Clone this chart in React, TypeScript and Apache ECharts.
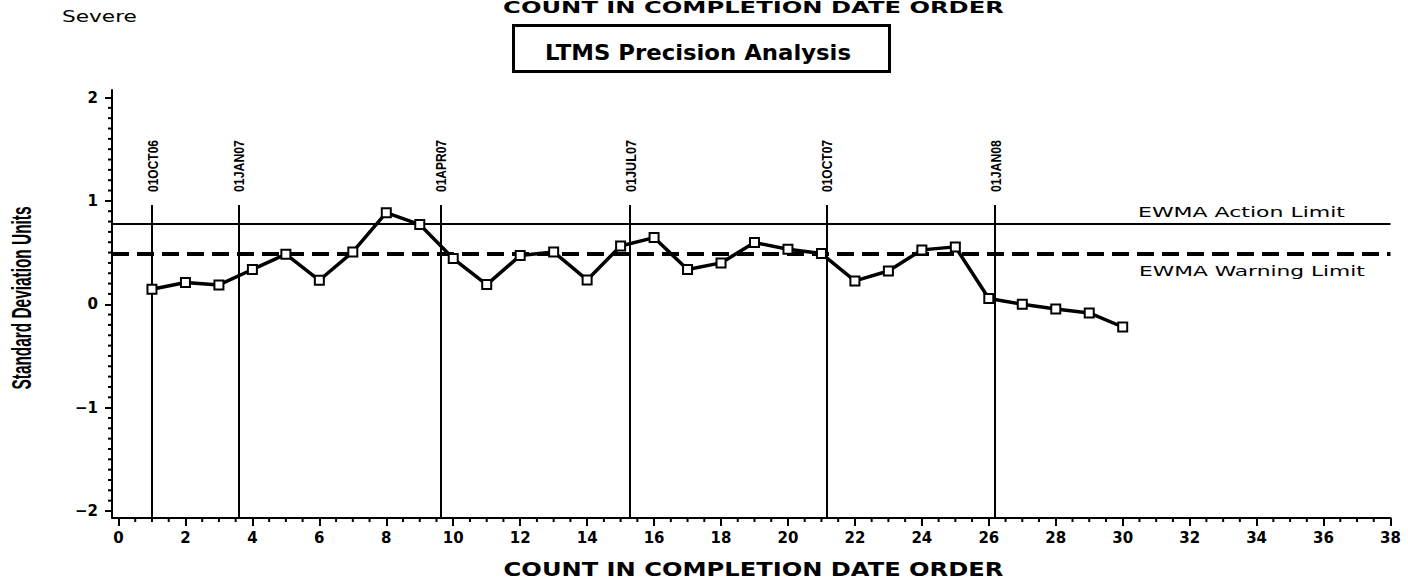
import React, { useEffect, useRef } from "react";
import * as echarts from "echarts";

// ---- data ----
const counts = [1, 2, 3, 4, 5, 6, 7, 8, 9, 10, 11, 12, 13, 14, 15, 16, 17, 18, 19, 20, 21, 22, 23, 24, 25, 26, 27, 28, 29, 30];
const sdUnits = [0.145, 0.21, 0.187, 0.336, 0.484, 0.232, 0.506, 0.886, 0.771, 0.442, 0.19, 0.471, 0.506, 0.235, 0.564, 0.645, 0.336, 0.4, 0.597, 0.532, 0.49, 0.226, 0.322, 0.526, 0.555, 0.055, 0.0, -0.045, -0.084, -0.22];
const actionLimit = 0.783;
const warningLimit = 0.493;
const dateLabels = ["01OCT06", "01JAN07", "01APR07", "01JUL07", "01OCT07", "01JAN08"];
const datePositions = [1.0, 3.58, 9.62, 15.27, 21.15, 26.18];
const xTickLabels = [0, 2, 4, 6, 8, 10, 12, 14, 16, 18, 20, 22, 24, 26, 28, 30, 32, 34, 36, 38];
const yTickLabels = [-2, -1, 0, 1, 2];
const titleText = "COUNT IN COMPLETION DATE ORDER";
const boxTitle = "LTMS Precision Analysis";
const severityText = "Severe";
const yTitle = "Standard Deviation Units";
const actionText = "EWMA Action Limit";
const warningText = "EWMA Warning Limit";

// axis ranges (axes are offset a little from the first ticks, like the original)
const X_MIN = -0.194;
const X_MAX = 38;
const Y_MIN = -2.0677;
const Y_MAX = 2.0726;
const LINE_TOP = 0.96;
const DATE_LABEL_Y = 1.086;

// minor tick positions (0.5 on x, 0.1 on y)
const xMinorTicks: number[] = [];
for (let i = 0; i <= 76; i++) if (i % 4 !== 0) xMinorTicks.push(i * 0.5);
const yMinorTicks: number[] = [];
for (let i = -20; i <= 20; i++) if (i % 10 !== 0) yMinorTicks.push(i / 10);

const SANS = "'DejaVu Sans', Verdana, sans-serif";
const ARIAL = "'Liberation Sans', Arial, sans-serif";

function measure(text: string, font: string): number {
  const c = document.createElement("canvas").getContext("2d");
  if (!c) return text.length * 8;
  c.font = font;
  return c.measureText(text).width || 1;
}

function fitText(
  text: string,
  x: number,
  y: number,
  size: number,
  weight: string,
  family: string,
  target: number,
  align: string,
  rotation = 0
) {
  const w = measure(text, `${weight} ${size}px ${family}`);
  return {
    type: "text",
    x,
    y,
    rotation,
    scaleX: target / w,
    scaleY: 1,
    silent: true,
    style: {
      text,
      fontSize: size,
      fontWeight: weight,
      fontFamily: family,
      fill: "#000",
      align,
      verticalAlign: "middle",
      textAlign: align,
      textVerticalAlign: "middle",
    },
  };
}

export default function App() {
  const ref = useRef<HTMLDivElement>(null);

  useEffect(() => {
    if (!ref.current) return;
    const chart = echarts.init(ref.current, null, { renderer: "svg" });

    const axisLine = { show: true, onZero: false, lineStyle: { color: "#000", width: 2 } };
    const labelFont = { color: "#000", fontSize: 15, fontWeight: "bold", fontFamily: SANS };
    const tickStyle = { color: "#000", width: 2 };

    const option: any = {
      animation: false,
      backgroundColor: "#fff",
      grid: { left: 112, right: 17.5, top: 90, bottom: 61, containLabel: false },
      xAxis: {
        type: "value",
        min: X_MIN,
        max: X_MAX,
        position: "bottom",
        axisLine,
        splitLine: { show: false },
        axisTick: { show: true, customValues: xTickLabels, length: 8, lineStyle: tickStyle },
        axisLabel: {
          show: true,
          customValues: xTickLabels,
          margin: 12,
          ...labelFont,
          formatter: (v: number) => String(v),
        },
      },
      yAxis: {
        type: "value",
        min: Y_MIN,
        max: Y_MAX,
        position: "left",
        axisLine,
        splitLine: { show: false },
        axisTick: { show: true, customValues: yTickLabels, length: 7, lineStyle: tickStyle },
        axisLabel: {
          show: true,
          customValues: yTickLabels,
          margin: 14,
          ...labelFont,
          formatter: (v: number) => String(v).replace("-", "\u2212"),
        },
      },
      series: [
        {
          name: "refs",
          type: "line",
          data: [],
          silent: true,
          markLine: {
            silent: true,
            symbol: "none",
            label: { show: false },
            data: [
              { yAxis: actionLimit, lineStyle: { color: "#000", width: 2, type: "solid" } },
              { yAxis: warningLimit, lineStyle: { color: "#000", width: 4, type: [17, 8] } },
              ...datePositions.map((d) => [
                { coord: [d, Y_MIN], lineStyle: { color: "#000", width: 2, type: "solid" } },
                { coord: [d, LINE_TOP] },
              ]),
            ],
          },
        },
        {
          name: "xMinorTicks",
          type: "custom",
          silent: true,
          clip: false,
          data: xMinorTicks.map((v) => [v, Y_MIN]),
          encode: { x: 0, y: 1 },
          renderItem: (_p: any, api: any) => {
            const pt = api.coord([api.value(0), api.value(1)]);
            return {
              type: "line",
              shape: { x1: pt[0], y1: pt[1], x2: pt[0], y2: pt[1] + 4 },
              style: { stroke: "#000", lineWidth: 2 },
            };
          },
        },
        {
          name: "yMinorTicks",
          type: "custom",
          silent: true,
          clip: false,
          data: yMinorTicks.map((v) => [X_MIN, v]),
          encode: { x: 0, y: 1 },
          renderItem: (_p: any, api: any) => {
            const pt = api.coord([api.value(0), api.value(1)]);
            return {
              type: "line",
              shape: { x1: pt[0], y1: pt[1], x2: pt[0] - 4, y2: pt[1] },
              style: { stroke: "#000", lineWidth: 2 },
            };
          },
        },
        {
          name: "EWMA",
          type: "line",
          data: counts.map((c, i) => [c, sdUnits[i]]),
          symbol: "rect",
          symbolSize: 9,
          showAllSymbol: true,
          lineStyle: { color: "#000", width: 3.5 },
          itemStyle: { color: "#fff", borderColor: "#000", borderWidth: 2 },
          z: 5,
        },
      ],
    };

    chart.setOption(option);

    // date labels placed through the chart's own scales
    const dateTexts = datePositions.map((d, i) => {
      const p = chart.convertToPixel({ xAxisIndex: 0, yAxisIndex: 0 }, [d, DATE_LABEL_Y]) as number[];
      return fitText(dateLabels[i], p[0] + 1, p[1], 15, "bold", ARIAL, 52, "left", Math.PI / 2);
    });

    chart.setOption({
      graphic: [
        fitText(severityText, 62, 16, 16, "normal", SANS, 75, "left"),
        fitText(titleText, 753.5, 8, 16, "bold", SANS, 501, "center"),
        fitText(titleText, 753.5, 568.5, 20, "bold", SANS, 500, "center"),
        {
          type: "rect",
          silent: true,
          shape: { x: 513.5, y: 25.5, width: 376, height: 46 },
          style: { fill: "none", stroke: "#000", lineWidth: 3 },
        },
        fitText(boxTitle, 698, 53, 21, "bold", SANS, 306, "center"),
        fitText(actionText, 1138, 212, 14, "normal", SANS, 207, "left"),
        fitText(warningText, 1139, 271, 14, "normal", SANS, 226, "left"),
        fitText(yTitle, 22, 298, 28, "bold", ARIAL, 183, "center", Math.PI / 2),
        ...dateTexts,
      ],
    });

    return () => chart.dispose();
  }, []);

  return (
    <div
      ref={ref}
      style={{ position: "absolute", left: 0, top: 0, width: 1408, height: 579, background: "#fff" }}
    />
  );
}
